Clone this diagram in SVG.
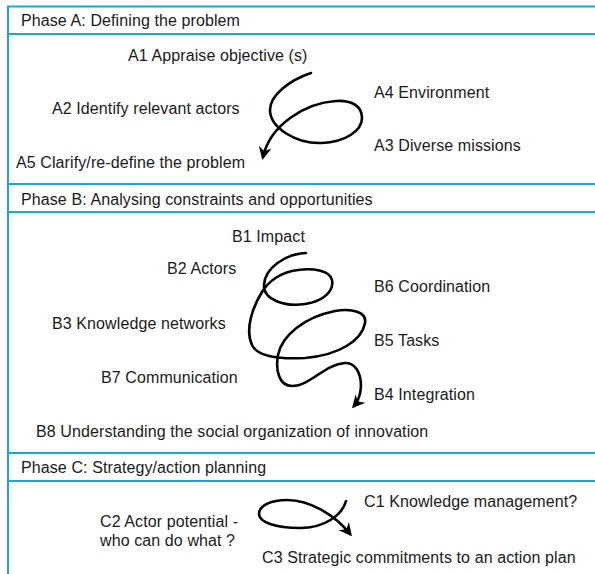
<svg xmlns="http://www.w3.org/2000/svg" width="595" height="574" viewBox="0 0 595 574">
<defs>
<style>
.frame{stroke:#19a7d7;stroke-width:2;fill:none}
text{font-family:"Liberation Sans",Arial,Helvetica,sans-serif;font-size:16px;letter-spacing:0.1px;fill:#1a1a1a}
.curve{fill:none;stroke:#000;stroke-width:2.6;stroke-linecap:round;stroke-linejoin:round}
</style>
<marker id="ah" viewBox="-12 -7 16 14" refX="0" refY="0" markerWidth="16" markerHeight="14" markerUnits="userSpaceOnUse" orient="auto">
<path d="M3,0 L-10,-6.5 L-6,0 L-10,6.5 Z" fill="#000"/>
</marker>
</defs>
<rect width="595" height="574" fill="#fff"/>
<g id="frame">
<line class="frame" x1="8" y1="6" x2="8" y2="574"/>
<line class="frame" x1="7" y1="6.5" x2="595" y2="6.5"/>
<line class="frame" x1="7" y1="34" x2="595" y2="34"/>
<line class="frame" x1="7" y1="184" x2="595" y2="184"/>
<line class="frame" x1="7" y1="212" x2="595" y2="212"/>
<line class="frame" x1="7" y1="453" x2="595" y2="453"/>
<line class="frame" x1="7" y1="481" x2="595" y2="481"/>
</g>
<g id="phaseA">
<text x="21" y="26">Phase A: Defining the problem</text>
<g id="A1"><text x="128" y="61">A1 Appraise objective (s)</text></g>
<g id="A2"><text x="52" y="114">A2 Identify relevant actors</text></g>
<g id="A5"><text x="16" y="168">A5 Clarify/re-define the problem</text></g>
<g id="A4"><text x="374" y="98">A4 Environment</text></g>
<g id="A3"><text x="374" y="151">A3 Diverse missions</text></g>
</g>
<g id="phaseB">
<text x="21" y="205">Phase B: Analysing constraints and opportunities</text>
<g id="B1"><text x="232" y="242">B1 Impact</text></g>
<g id="B2"><text x="167" y="274">B2 Actors</text></g>
<g id="B6"><text x="374" y="292">B6 Coordination</text></g>
<g id="B3"><text x="52" y="329">B3 Knowledge networks</text></g>
<g id="B5"><text x="374" y="346">B5 Tasks</text></g>
<g id="B7"><text x="101" y="383">B7 Communication</text></g>
<g id="B4"><text x="374" y="400">B4 Integration</text></g>
<g id="B8"><text x="36" y="437">B8 Understanding the social organization of innovation</text></g>
</g>
<g id="phaseC">
<text x="21" y="473">Phase C: Strategy/action planning</text>
<g id="C1"><text x="364" y="507">C1 Knowledge management?</text></g>
<g id="C2"><text x="100" y="527">C2 Actor potential -</text><text x="100" y="546">who can do what ?</text></g>
<g id="C3"><text x="262" y="563">C3 Strategic commitments to an action plan</text></g>
</g>
<g id="connectors">
<path class="curve" marker-end="url(#ah)" d="M311,73 C290,80 270,95 270,110 C270,127 295,144 322,143 C345,142 362,131 362,118 C362,105 350,100 336,101 C305,103 270,125 263,157"/>
<path class="curve" marker-end="url(#ah)" d="M306,253 C285,254 265,268 264,285 C263,300 285,307 305,304 C325,301 334,290 332,280 C330,270 312,268 298,270 C280,272 268,282 262,292 C252,308 245,330 252,345 C258,358 285,359 305,358 C340,355 362,340 365,323 C367,312 352,308 335,311 C305,317 282,335 278,355 C275,372 280,386 292,386 C310,386 325,364 345,363 C362,362 366,392 354,406"/>
<path class="curve" marker-end="url(#ah)" d="M346,501 C342,515 325,528 300,528 C275,528 259,522 259,514 C259,505 272,500 287,500 C310,500 335,515 350,534"/>
</g>
</svg>
